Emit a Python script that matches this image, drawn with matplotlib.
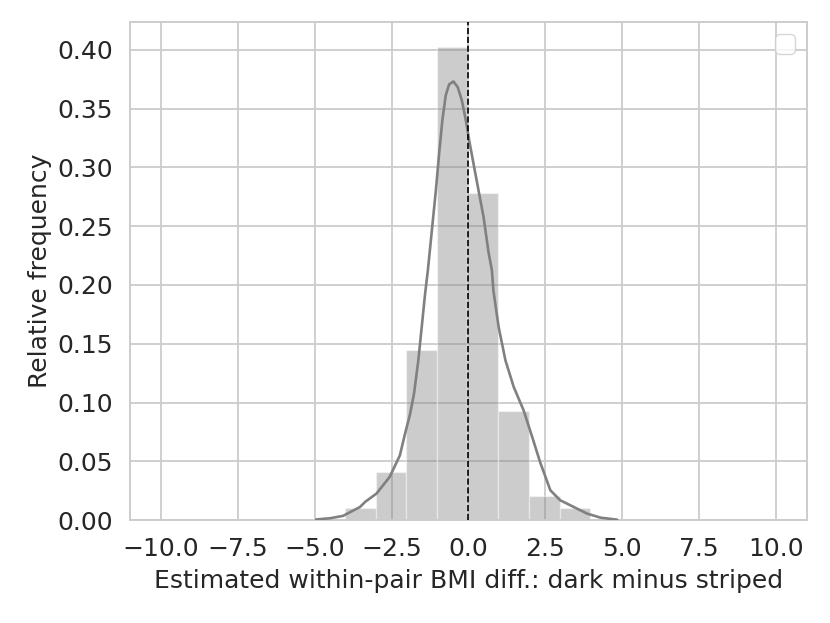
import matplotlib
matplotlib.use("Agg")
import matplotlib.pyplot as plt
import numpy as np

# Histogram (relative frequency per bin of width ~1)
bin_edges = [-4.02, -3.02, -2.03, -1.03, -0.04, 0.96, 1.96, 2.96, 3.96]
bin_heights = [0.0103, 0.0412, 0.1443, 0.4021, 0.2784, 0.0928, 0.0206, 0.0103]

# KDE curve
kde_x = [-4.95, -4.5, -4.08, -3.53, -3.35, -2.99, -2.56, -2.23, -2.06, -1.90, -1.77,
         -1.63, -1.52, -1.41, -1.32, -1.19, -1.06, -0.955, -0.85, -0.74, -0.63, -0.49,
         -0.35, -0.215, -0.085, 0.023, 0.163, 0.326, 0.49, 0.65, 0.76, 0.81, 0.98,
         1.20, 1.47, 1.79, 2.07, 2.33, 2.66, 2.98, 3.42, 3.85, 4.29, 4.83]
kde_y = [0.0005, 0.0015, 0.0035, 0.011, 0.0156, 0.0225, 0.0367, 0.0550, 0.0736, 0.0900, 0.1076,
         0.1359, 0.1642, 0.1926, 0.2125, 0.2465, 0.2805, 0.3117, 0.340, 0.3613, 0.3707, 0.3732,
         0.3684, 0.357, 0.340, 0.323, 0.3032, 0.2805, 0.2578, 0.228, 0.2125, 0.195, 0.1642,
         0.1359, 0.1132, 0.0934, 0.0707, 0.0490, 0.0253, 0.0168, 0.0111, 0.0055, 0.002, 0.0003]

xticks = [-10.0, -7.5, -5.0, -2.5, 0.0, 2.5, 5.0, 7.5, 10.0]
yticks = [0.00, 0.05, 0.10, 0.15, 0.20, 0.25, 0.30, 0.35, 0.40]
ref_x = 0.0

text_color = "#262626"
plt.rcParams["font.family"] = ["DejaVu Sans"]
FS = 18

fig = plt.figure(figsize=(8.3, 6.23), dpi=100)
ax = fig.add_axes([0.1566, 0.1653, 0.8157, 0.7994])

edges = np.array(bin_edges)
widths = np.diff(edges)
ax.bar(edges[:-1], bin_heights, width=widths, align="edge", color="gray",
       alpha=0.4, edgecolor="white", linewidth=1, zorder=2)

ax.plot(kde_x, kde_y, color="gray", linewidth=1.9, zorder=3,
        solid_joinstyle="round", solid_capstyle="round")

ax.axvline(ref_x, color="black", linestyle="--", linewidth=1.2, zorder=4)

ax.set_xlim(-11, 11)
ax.set_ylim(0, 0.4238)
ax.set_xticks(xticks)
ax.set_yticks(yticks)
ax.set_xticklabels([f"{t:.1f}".replace("-", "\u2212") for t in xticks])
ax.set_yticklabels([f"{t:.2f}" for t in yticks])

ax.grid(True, color="#cccccc", linewidth=1.3, zorder=0)
ax.set_axisbelow(True)
for s in ax.spines.values():
    s.set_color("#cccccc")
    s.set_linewidth(1.4)
ax.tick_params(axis="both", length=0, pad=12, colors=text_color, labelsize=FS)

ax.set_xlabel("Estimated within-pair BMI diff.: dark minus striped", color=text_color, fontsize=FS, labelpad=6)
ax.set_ylabel("Relative frequency", color=text_color, fontsize=FS, labelpad=4)

leg = ax.legend(handles=[], loc="upper right", frameon=True, fontsize=FS)
leg.get_frame().set_edgecolor("#cccccc")

fig.savefig("out.png", dpi=100)
